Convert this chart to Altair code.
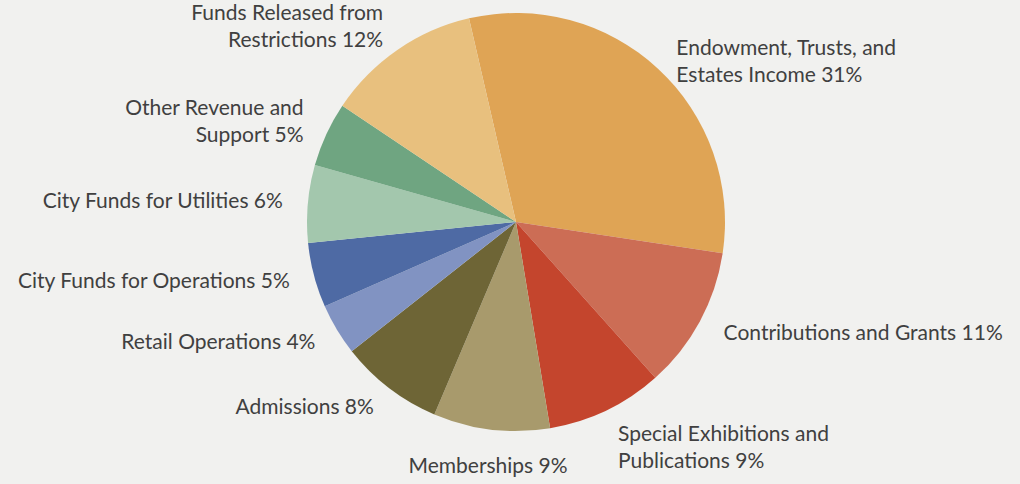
import math
import altair as alt
import pandas as pd

categories = [
    "Endowment, Trusts, and\nEstates Income 31%",
    "Contributions and Grants 11%",
    "Special Exhibitions and\nPublications 9%",
    "Memberships 9%",
    "Admissions 8%",
    "Retail Operations 4%",
    "City Funds for Operations 5%",
    "City Funds for Utilities 6%",
    "Other Revenue and\nSupport 5%",
    "Funds Released from\nRestrictions 12%",
]
values = [31, 11, 9, 9, 8, 4, 5, 6, 5, 12]
colors = ["#dfa455", "#cc6d55", "#c4452d", "#a89a6c", "#6e6536",
          "#8193c2", "#4e6aa4", "#a3c7ad", "#6fa581", "#e8c07e"]

start = math.radians(-13)
theta_scale = alt.Scale(domain=[0, 100], range=[start, start + 2 * math.pi])

rows = []
cum = 0
for i, (c, v) in enumerate(zip(categories, values)):
    mid = cum + v / 2
    cum += v
    ang = (math.degrees(start) + mid * 3.6) % 360
    if 165 <= ang <= 200:
        side = "center"
    elif 15 < ang < 165:
        side = "left"
    else:
        side = "right"
    multi = "\n" in c
    rows.append({"category": c, "value": v, "order": i, "mid": mid,
                 "side": side, "multi": multi})
df = pd.DataFrame(rows)

pie = alt.Chart(df).mark_arc(outerRadius=209, stroke=None).encode(
    theta=alt.Theta("value:Q", stack=True, scale=theta_scale),
    order=alt.Order("order:Q"),
    color=alt.Color("category:N", scale=alt.Scale(domain=categories, range=colors), legend=None),
)

def labels(side, baseline, radius, flt, dy=0):
    return alt.Chart(df).transform_filter(flt).mark_text(
        radius=radius, align=side, baseline=baseline, lineBreak="\n", dy=dy,
        font="Lato", fontSize=21, color="#404040", lineHeight=27,
    ).encode(
        theta=alt.Theta("mid:Q", scale=theta_scale),
        text="category:N",
    )

chart = alt.layer(
    pie,
    labels("left", "middle", 236, alt.datum.side == "left"),
    labels("right", "middle", 234, (alt.datum.side == "right") & (alt.datum.multi == False)),
    labels("right", "middle", 234, (alt.datum.side == "right") & (alt.datum.multi == True), dy=-15),
    labels("center", "top", 236, alt.datum.side == "center"),
).properties(
    width=1008, height=444,
    background="#f1f1ef",
    padding={"top": 0, "left": 12, "right": 0, "bottom": 40},
    autosize=alt.AutoSizeParams(type="none"),
).configure_view(stroke=None)

chart.save("out.html", embed_options={"renderer": "svg", "actions": False})
